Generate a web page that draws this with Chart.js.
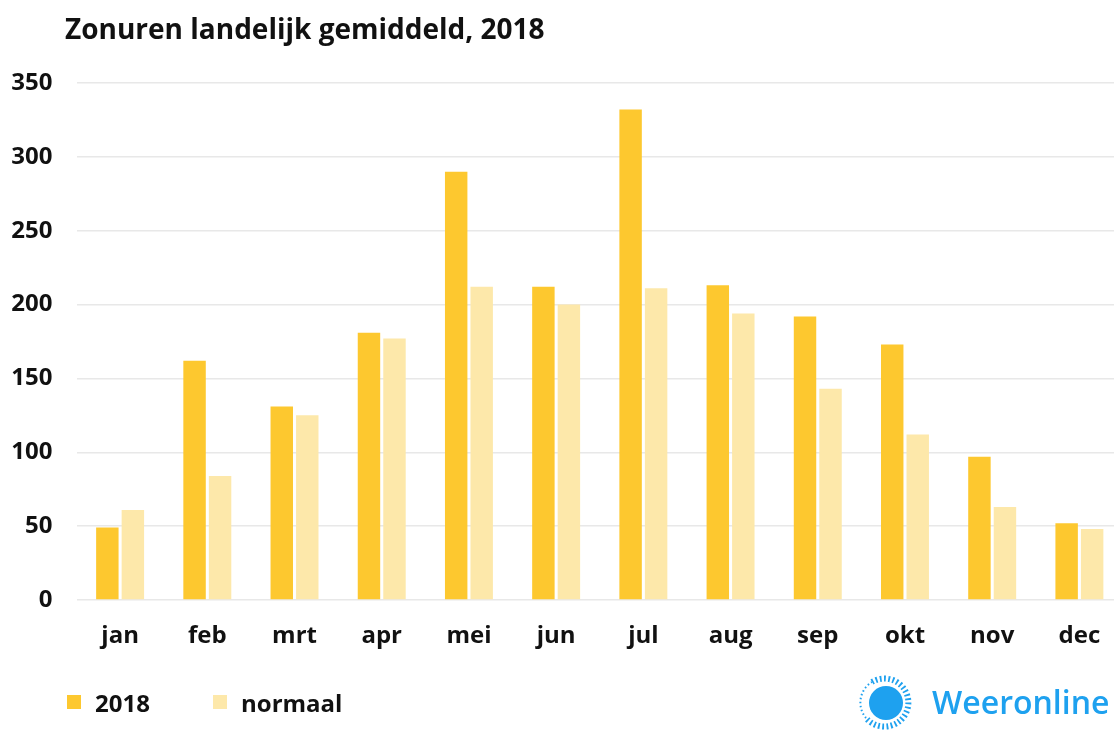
<!DOCTYPE html>
<html>
<head>
<meta charset="utf-8">
<script src="https://cdn.jsdelivr.net/npm/chart.js@4.4.1/dist/chart.umd.min.js"></script>
<style>
  html, body { margin: 0; padding: 0; background: #fff; overflow: hidden; width: 1114px; height: 731px; }
  #wrap { position: absolute; left: 0; top: 0; width: 1123px; height: 731px; }
  #title { position: absolute; left: 65px; top: 9px; font-family: "Open Sans", sans-serif; font-weight: 700; font-size: 28px; color: #111; white-space: nowrap; }
  #legend { position: absolute; left: 67px; top: 686px; font-family: "Open Sans", sans-serif; font-weight: 700; font-size: 24px; color: #111; white-space: nowrap; }
  .item { position: absolute; top: 0; display: flex; align-items: center; height: 32px; }
  .sw { width: 14px; height: 14px; margin-right: 14px; }
  #logo { position: absolute; left: 856px; top: 674px; width: 258px; height: 57px; }
  #logotext { position: absolute; left: 76px; top: 6px; font-family: "Open Sans", sans-serif; font-weight: 600; font-size: 32px; color: #1ea1ef; white-space: nowrap; }
</style>
</head>
<body>
<div id="wrap"><canvas id="c"></canvas></div>
<div id="title">Zonuren landelijk gemiddeld, 2018</div>
<div id="legend">
  <div class="item" style="left:0"><div class="sw" style="background:#FDC82F"></div>2018</div>
  <div class="item" style="left:146px"><div class="sw" style="background:#FDE8AA"></div>normaal</div>
</div>
<div id="logo">
  <svg width="70" height="57" viewBox="0 0 70 57" style="position:absolute;left:0;top:0">
    <circle cx="30" cy="29" r="17" fill="#1ea1ef"/>
    <path d="M 16 8 A 24 24 0 1 1 10 44" fill="none" stroke="#1ea1ef" stroke-width="6" stroke-dasharray="1.8 2.4"/>
    <path d="M 10 44 A 24 24 0 0 1 16 8" fill="none" stroke="#1ea1ef" stroke-width="2" stroke-dasharray="1.5 2.5"/>
  </svg>
  <div id="logotext">Weeronline</div>
</div>
<script>
const categories = ["jan","feb","mrt","apr","mei","jun","jul","aug","sep","okt","nov","dec"];
const values2018 = [49, 162, 131, 181, 290, 212, 332, 213, 192, 173, 97, 52];
const valuesNormaal = [61, 84, 125, 177, 212, 200, 211, 194, 143, 112, 63, 48];
const yTicks = [0, 50, 100, 150, 200, 250, 300, 350];

const ctx = document.getElementById('c');
new Chart(ctx, {
  type: 'bar',
  data: {
    labels: categories,
    datasets: [
      { label: '2018', data: values2018, backgroundColor: '#FDC82F', categoryPercentage: 0.585, barPercentage: 0.88 },
      { label: 'normaal', data: valuesNormaal, backgroundColor: '#FDE8AA', categoryPercentage: 0.585, barPercentage: 0.88 }
    ]
  },
  options: {
    responsive: true,
    maintainAspectRatio: false,
    animation: false,
    layout: { padding: { top: 83, left: 0, right: 0, bottom: 0 } },
    plugins: { legend: { display: false }, title: { display: false }, tooltip: { enabled: false } },
    scales: {
      x: {
        grid: { display: false, drawTicks: false },
        border: { display: false },
        ticks: { color: '#111', font: { family: 'Open Sans', weight: 'bold', size: 24 }, padding: 22, maxRotation: 0, autoSkip: false },
        afterFit: (s) => { s.height = 131; }
      },
      y: {
        min: 0, max: 350,
        afterBuildTicks: (s) => { s.ticks = yTicks.map(v => ({ value: v })); },
        grid: { color: '#e8e8e8', lineWidth: 1.5, drawTicks: false },
        border: { display: false },
        ticks: { color: '#111', font: { family: 'Open Sans', weight: 'bold', size: 24 }, padding: 24 },
        afterFit: (s) => { s.width = 76.5; }
      }
    }
  }
});
</script>
</body>
</html>
